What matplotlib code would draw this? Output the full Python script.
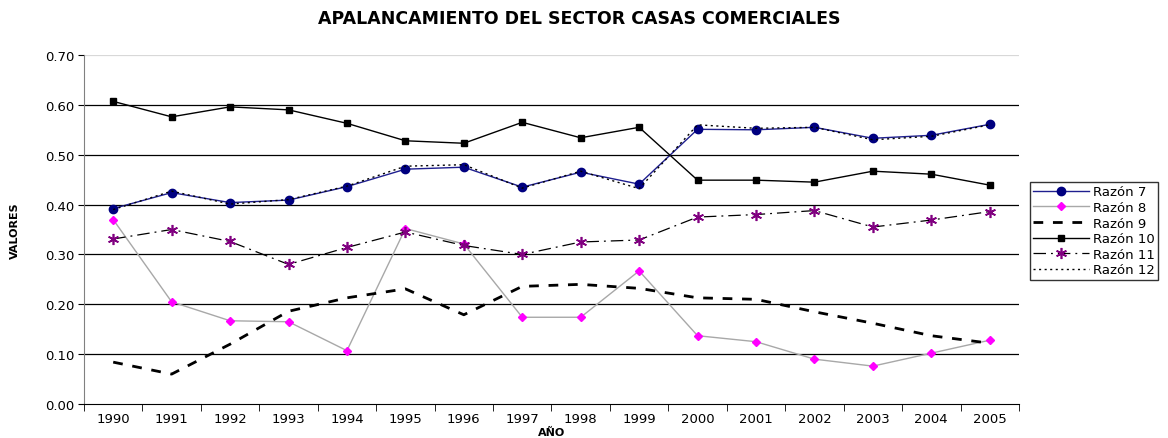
import numpy as np
import matplotlib.pyplot as plt

plt.rcParams['font.family'] = ['DejaVu Sans']

years = ["1990", "1991", "1992", "1993", "1994", "1995", "1996", "1997",
         "1998", "1999", "2000", "2001", "2002", "2003", "2004", "2005"]

razon7 = [0.392, 0.424, 0.404, 0.409, 0.436, 0.471, 0.475, 0.435,
          0.465, 0.441, 0.551, 0.550, 0.555, 0.533, 0.539, 0.561]
razon8 = [0.370, 0.205, 0.167, 0.165, 0.107, 0.352, 0.321, 0.174,
          0.174, 0.267, 0.137, 0.125, 0.090, 0.076, 0.102, 0.128]
razon9 = [0.084, 0.060, 0.120, 0.186, 0.213, 0.231, 0.179, 0.236,
          0.240, 0.232, 0.213, 0.210, 0.185, 0.162, 0.137, 0.122]
razon10 = [0.607, 0.576, 0.596, 0.590, 0.563, 0.528, 0.523, 0.565,
           0.534, 0.555, 0.449, 0.449, 0.445, 0.467, 0.461, 0.439]
razon11 = [0.331, 0.350, 0.326, 0.280, 0.314, 0.345, 0.318, 0.300,
           0.325, 0.329, 0.375, 0.380, 0.388, 0.355, 0.369, 0.386]
razon12 = [0.390, 0.427, 0.401, 0.410, 0.437, 0.477, 0.480, 0.433,
           0.467, 0.432, 0.560, 0.553, 0.555, 0.530, 0.537, 0.560]

x = np.arange(len(years))

fig = plt.figure(figsize=(11.68, 4.39), dpi=100)
ax = fig.add_axes([0.0719, 0.0774, 0.8005, 0.795])

# gridlines
for v in np.arange(0.1, 0.65, 0.1):
    ax.axhline(v, color="black", lw=0.9, zorder=1)
ax.axhline(0.7, color="#d8d8d8", lw=0.9, zorder=1)

ax.plot(x, razon7, "-", color="#1f1f8f", lw=1.0, marker="o", markersize=6,
        markerfacecolor="#000080", markeredgecolor="#000080", label="Razón 7", zorder=4)
ax.plot(x, razon8, "-", color="#a8a8a8", lw=1.0, marker="D", markersize=4.5,
        markerfacecolor="#ff00ff", markeredgecolor="#ff00ff", label="Razón 8", zorder=3)
ax.plot(x, razon9, color="black", lw=2.0, dashes=(3.5, 3.5), label="Razón 9", zorder=3)
ax.plot(x, razon10, "-", color="black", lw=1.0, marker="s", markersize=5,
        label="Razón 10", zorder=3)
ax.plot(x, razon11, color="black", lw=0.9, dashes=(10, 4, 1.5, 4), marker=(6, 2, 0),
        markersize=8, markeredgecolor="#800080", markeredgewidth=1.2,
        label="Razón 11", zorder=3)
ax.plot(x, razon12, color="black", lw=1.0, dashes=(1.5, 2.5), label="Razón 12", zorder=5)

ax.set_xlim(-0.5, len(years) - 0.5)
ax.set_ylim(0, 0.7)
ax.set_yticks(np.arange(0, 0.71, 0.1))
ax.set_yticklabels([f"{v:.2f}" for v in np.arange(0, 0.71, 0.1)], fontsize=9.5)
ax.set_xticks(x)
ax.set_xticklabels(years, fontsize=9.5)
ax.tick_params(axis="x", length=0, pad=6)
ax.set_xticks(np.arange(-0.5, len(years), 1), minor=True)
ax.tick_params(axis="x", which="minor", length=5, direction="out")
ax.tick_params(axis="y", length=4, direction="out", pad=3)

for s in ["top", "right"]:
    ax.spines[s].set_visible(False)
ax.spines["left"].set_color("#808080")
ax.spines["bottom"].set_color("black")

ax.set_xlabel("AÑO", fontsize=8, fontweight="bold", labelpad=1)
ax.set_ylabel("VALORES", fontsize=8, fontweight="bold")
ax.yaxis.set_label_coords(-0.068, 0.5)
fig.suptitle("APALANCAMIENTO DEL SECTOR CASAS COMERCIALES", fontsize=12.5,
             fontweight="bold", x=0.496, y=0.978)

leg = fig.legend(loc="upper left", bbox_to_anchor=(1030 / 1168, 1 - 183 / 439),
                 fontsize=9.5, frameon=True, fancybox=False, edgecolor="black",
                 borderpad=0.25, labelspacing=0.2, handlelength=4.2,
                 handletextpad=0.3, borderaxespad=0)
leg.get_frame().set_linewidth(1.0)

plt.savefig("out.png", dpi=100)
